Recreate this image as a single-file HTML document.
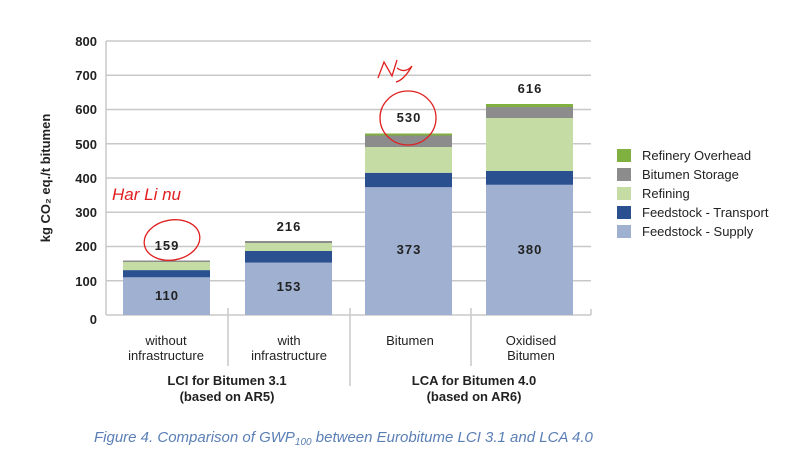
<!DOCTYPE html>
<html><head><meta charset="utf-8"><style>
body{margin:0;background:#fff;}
svg text{font-family:"Liberation Sans",sans-serif;}
</style></head><body>
<svg width="800" height="446" viewBox="0 0 800 446" xmlns="http://www.w3.org/2000/svg">
<g stroke="#c8c8c8" stroke-width="1.5">
<line x1="106" y1="41" x2="591" y2="41"/>
<line x1="106" y1="75.25" x2="591" y2="75.25"/>
<line x1="106" y1="109.5" x2="591" y2="109.5"/>
<line x1="106" y1="143.75" x2="591" y2="143.75"/>
<line x1="106" y1="178" x2="591" y2="178"/>
<line x1="106" y1="212.25" x2="591" y2="212.25"/>
<line x1="106" y1="246.5" x2="591" y2="246.5"/>
<line x1="106" y1="280.75" x2="591" y2="280.75"/>
<line x1="106" y1="315" x2="591" y2="315"/>
<line x1="106" y1="41" x2="106" y2="315"/>
<line x1="591" y1="309" x2="591" y2="315"/>
<line x1="228" y1="308" x2="228" y2="366"/>
<line x1="350" y1="308" x2="350" y2="386"/>
<line x1="471" y1="308" x2="471" y2="366"/>
</g>
<g font-size="13" font-weight="bold" fill="#222" text-anchor="end">
<text x="97" y="46">800</text><text x="97" y="80">700</text><text x="97" y="114">600</text>
<text x="97" y="149">500</text><text x="97" y="183">400</text><text x="97" y="217">300</text>
<text x="97" y="251">200</text><text x="97" y="286">100</text><text x="97" y="324">0</text>
</g>
<text transform="translate(50,178) rotate(-90)" font-size="13" font-weight="bold" fill="#222" text-anchor="middle">kg CO₂ eq./t bitumen</text>
<!-- bar1 -->
<rect x="123" y="277.3" width="87" height="37.7" fill="#9fb0d1"/>
<rect x="123" y="270.1" width="87" height="7.2" fill="#2a5090"/>
<rect x="123" y="262" width="87" height="8.1" fill="#c5dca5"/>
<rect x="123" y="260.5" width="87" height="1.5" fill="#8c8c8c"/>
<!-- bar2 -->
<rect x="245" y="262.6" width="87" height="52.4" fill="#9fb0d1"/>
<rect x="245" y="251" width="87" height="11.6" fill="#2a5090"/>
<rect x="245" y="243" width="87" height="8" fill="#c5dca5"/>
<rect x="245" y="241" width="87" height="2" fill="#8c8c8c"/>
<!-- bar3 -->
<rect x="365" y="187.2" width="87" height="127.8" fill="#9fb0d1"/>
<rect x="365" y="172.8" width="87" height="14.4" fill="#2a5090"/>
<rect x="365" y="147" width="87" height="25.8" fill="#c5dca5"/>
<rect x="365" y="135.5" width="87" height="11.5" fill="#8c8c8c"/>
<rect x="365" y="133.5" width="87" height="2" fill="#7fb040"/>
<!-- bar4 -->
<rect x="486" y="184.8" width="87" height="130.2" fill="#9fb0d1"/>
<rect x="486" y="171" width="87" height="13.8" fill="#2a5090"/>
<rect x="486" y="118" width="87" height="53" fill="#c5dca5"/>
<rect x="486" y="107" width="87" height="11" fill="#8c8c8c"/>
<rect x="486" y="104" width="87" height="3" fill="#7fb040"/>
<g font-size="13" font-weight="bold" fill="#222" text-anchor="middle" letter-spacing="1">
<text x="167" y="300">110</text><text x="289" y="291">153</text>
<text x="409" y="254">373</text><text x="530" y="254">380</text>
<text x="167" y="250">159</text><text x="289" y="231">216</text>
<text x="409" y="122">530</text><text x="530" y="93">616</text>
</g>
<g font-size="13" fill="#222">
<rect x="617" y="149" width="14" height="13" fill="#7fb040"/><text x="642" y="160">Refinery Overhead</text>
<rect x="617" y="168" width="14" height="13" fill="#8c8c8c"/><text x="642" y="179">Bitumen Storage</text>
<rect x="617" y="187" width="14" height="13" fill="#c5dca5"/><text x="642" y="198">Refining</text>
<rect x="617" y="206" width="14" height="13" fill="#2a5090"/><text x="642" y="217">Feedstock - Transport</text>
<rect x="617" y="225" width="14" height="13" fill="#9fb0d1"/><text x="642" y="236">Feedstock - Supply</text>
</g>
<g font-size="13" fill="#222" text-anchor="middle">
<text x="166" y="345">without</text><text x="166" y="360">infrastructure</text>
<text x="289" y="345">with</text><text x="289" y="360">infrastructure</text>
<text x="410" y="345">Bitumen</text>
<text x="531" y="345">Oxidised</text><text x="531" y="360">Bitumen</text>
</g>
<g font-size="13" font-weight="bold" fill="#222" text-anchor="middle">
<text x="227" y="385">LCI for Bitumen 3.1</text><text x="227" y="401">(based on AR5)</text>
<text x="474" y="385">LCA for Bitumen 4.0</text><text x="474" y="401">(based on AR6)</text>
</g>
<text x="94" y="442" font-size="15" font-style="italic" fill="#5a7fb5">Figure 4. Comparison of GWP<tspan font-size="10" dy="3">100</tspan><tspan dy="-3"> between Eurobitume LCI 3.1 and LCA 4.0</tspan></text>
<g fill="none" stroke="#e02020" stroke-width="1.3">
<ellipse cx="172" cy="240" rx="28" ry="20" transform="rotate(-10 172 240)"/>
<ellipse cx="408" cy="118" rx="28" ry="27"/>
<path d="M378 78 L384 62 L392 76 L397 60 M397 68 Q405 74 412 66 M412 66 Q404 80 396 82"/>
</g>
<text x="112" y="200" font-size="17" font-style="italic" fill="#e02020" font-family="Liberation Serif">Har Li nu</text>
</svg>
</body></html>
